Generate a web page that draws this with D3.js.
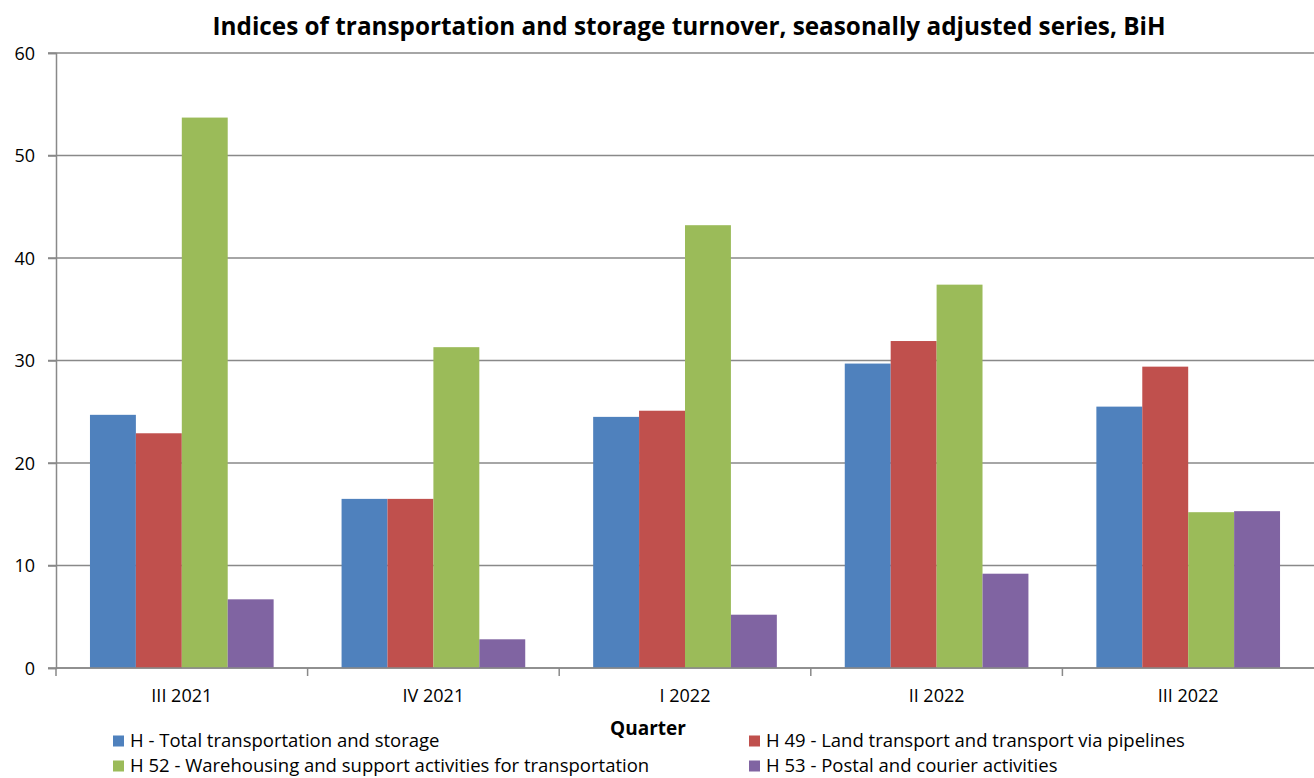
<!DOCTYPE html>
<html>
<head>
<meta charset="utf-8">
<script src="https://cdn.jsdelivr.net/npm/d3@7"></script>
<style>
  body { margin: 0; background: #fff; }
  text { font-family: "Open Sans", Lato, sans-serif; fill: #000; }
</style>
</head>
<body>
<div id="chart"></div>
<script>
// data
const quarters = ["III 2021", "IV 2021", "I 2022", "II 2022", "III 2022"];
const seriesNames = [
  "H - Total transportation and storage",
  "H 49 - Land transport and transport via pipelines",
  "H 52 - Warehousing and support activities for transportation",
  "H 53 - Postal and courier activities"
];
const totalH = [24.7, 16.5, 24.5, 29.7, 25.5];
const h49 = [22.9, 16.5, 25.1, 31.9, 29.4];
const h52 = [53.7, 31.3, 43.2, 37.4, 15.2];
const h53 = [6.7, 2.8, 5.2, 9.2, 15.3];
const yTicks = [0, 10, 20, 30, 40, 50, 60];
const colors = ["#4F81BD", "#C0504D", "#9BBB59", "#8064A2"];

const values = [totalH, h49, h52, h53];

var width = 1314, height = 778;
var margin = {top: 53, right: 0, bottom: 110, left: 56};

var svg = d3.select("#chart")
  .append("svg")
    .attr("width", width)
    .attr("height", height);

var x0 = d3.scaleBand()
  .domain(quarters)
  .range([margin.left, width - margin.right]);

var gap = x0.bandwidth() * 0.135;
var x1 = d3.scaleBand()
  .domain(d3.range(seriesNames.length))
  .range([gap, x0.bandwidth() - gap]);

var y = d3.scaleLinear()
  .domain([0, 60])
  .range([height - margin.bottom, margin.top]);

// gridlines
svg.append("g")
  .selectAll("line")
  .data(yTicks)
  .enter()
  .append("line")
    .attr("x1", margin.left - 8)
    .attr("x2", width - margin.right)
    .attr("y1", d => y(d))
    .attr("y2", d => y(d))
    .style("stroke", "#898989")
    .style("stroke-width", 1.5);

// bars
var groups = svg.append("g")
  .selectAll("g")
  .data(quarters)
  .enter()
  .append("g")
    .attr("transform", d => "translate(" + x0(d) + ",0)");

groups.selectAll("rect")
  .data((q, i) => values.map((s, k) => ({k: k, v: s[i]})))
  .enter()
  .append("rect")
    .attr("x", d => x1(d.k))
    .attr("width", x1.bandwidth())
    .attr("y", d => y(d.v))
    .attr("height", d => y(0) - y(d.v))
    .style("fill", d => colors[d.k]);

// left axis
var yAxis = svg.append("g")
  .attr("transform", "translate(" + margin.left + ",0)")
  .call(d3.axisLeft(y).tickValues(yTicks).tickSize(8).tickPadding(13));
yAxis.select(".domain").style("stroke", "#898989").style("stroke-width", 1.5);
yAxis.selectAll(".tick line").style("stroke", "#898989").style("stroke-width", 1.5);
yAxis.selectAll("text")
  .style("font-size", "18px")
  .style("font-family", "'Open Sans', sans-serif")
  .attr("dy", "0.35em");

// bottom axis, ticks between categories
var xAxis = svg.append("g")
  .attr("transform", "translate(0," + y(0) + ")");
xAxis.append("line")
  .attr("x1", margin.left)
  .attr("x2", width - margin.right)
  .style("stroke", "#898989")
  .style("stroke-width", 1.5);
xAxis.selectAll("line.tk")
  .data(quarters)
  .enter()
  .append("line")
    .attr("class", "tk")
    .attr("x1", d => x0(d))
    .attr("x2", d => x0(d))
    .attr("y1", 0)
    .attr("y2", 8)
    .style("stroke", "#898989")
    .style("stroke-width", 1.5);
xAxis.selectAll("text")
  .data(quarters)
  .enter()
  .append("text")
    .attr("x", d => x0(d) + x0.bandwidth() / 2)
    .attr("y", 34)
    .attr("text-anchor", "middle")
    .style("font-size", "18px")
    .text(d => d);

// titles
svg.append("text")
  .attr("x", 689)
  .attr("y", 35)
  .attr("text-anchor", "middle")
  .style("font-size", "24.3px")
  .style("font-weight", "bold")
  .text("Indices of transportation and storage turnover, seasonally adjusted series, BiH");

svg.append("text")
  .attr("x", 648)
  .attr("y", 735)
  .attr("text-anchor", "middle")
  .style("font-size", "19px")
  .style("font-weight", "bold")
  .text("Quarter");

// legend
var legendPos = [[113, 741], [749, 741], [113, 766], [749, 766]];
var legend = svg.append("g")
  .selectAll("g")
  .data(seriesNames)
  .enter()
  .append("g")
    .attr("transform", (d, i) => "translate(" + legendPos[i][0] + "," + legendPos[i][1] + ")");
legend.append("rect")
  .attr("x", 0)
  .attr("y", -5.5)
  .attr("width", 11)
  .attr("height", 11)
  .style("fill", (d, i) => colors[i]);
legend.append("text")
  .attr("x", 17)
  .attr("y", 0)
  .attr("dy", "0.35em")
  .style("font-size", "18.5px")
  .text(d => d);
</script>
</body>
</html>
